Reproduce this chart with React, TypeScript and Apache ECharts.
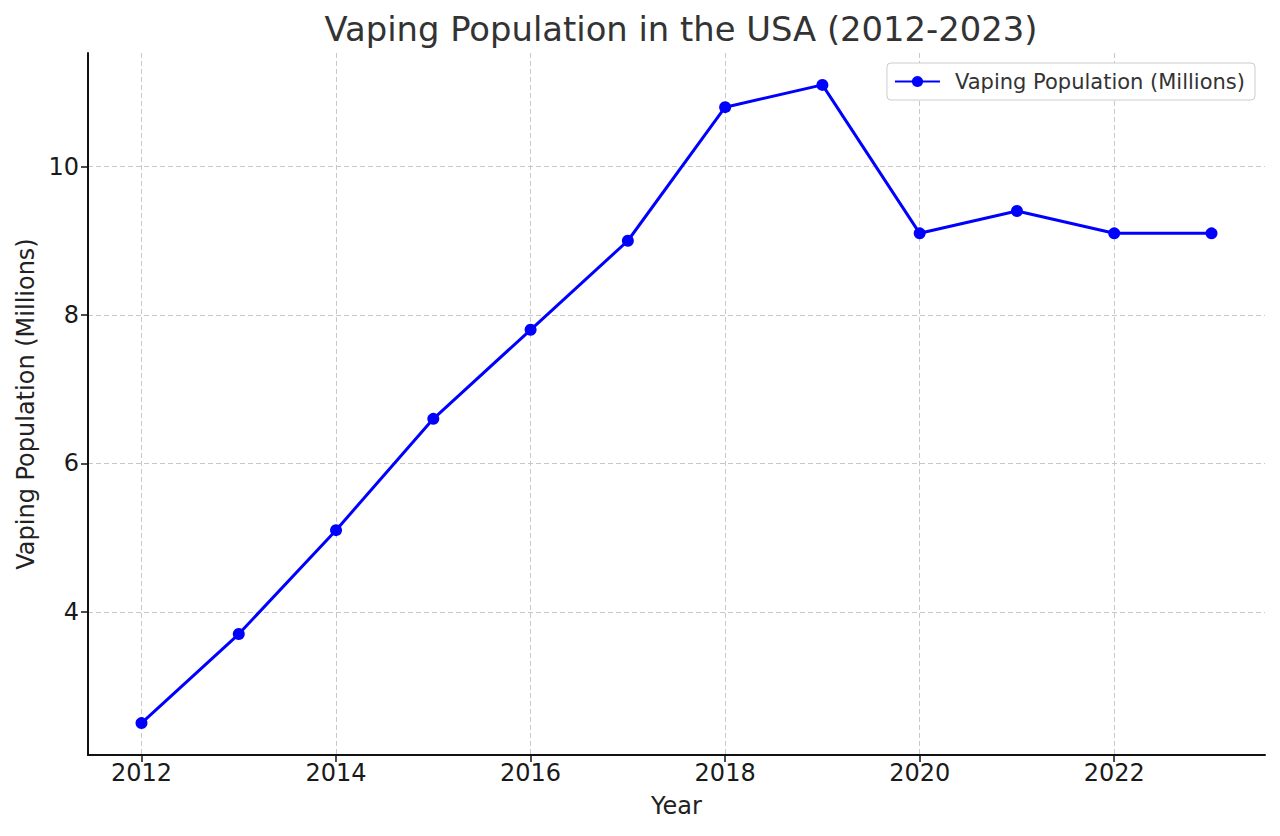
import React, { useEffect, useRef } from "react";
import * as echarts from "echarts";

const years = [2012, 2013, 2014, 2015, 2016, 2017, 2018, 2019, 2020, 2021, 2022, 2023];
const population = [2.5, 3.7, 5.1, 6.6, 7.8, 9.0, 10.8, 11.1, 9.1, 9.4, 9.1, 9.1];
const xTicks = [2012, 2014, 2016, 2018, 2020, 2022];
const yTicks = [4, 6, 8, 10];
const seriesName = "Vaping Population (Millions)";
const titleText = "Vaping Population in the USA (2012-2023)";

export default function App() {
  const ref = useRef<HTMLDivElement>(null);
  useEffect(() => {
    if (!ref.current) return;
    const chart = echarts.init(ref.current, undefined, { renderer: "svg" });
    const font = "DejaVu Sans";
    const gridLine = { show: true, lineStyle: { color: "#c8c8c8", width: 1, type: [5, 3] as any } };
    chart.setOption({
      animation: false,
      textStyle: { fontFamily: font },
      title: {
        text: titleText,
        left: 676,
        top: 7,
        textAlign: "center",
        textStyle: { fontFamily: font, fontSize: 33.8, fontWeight: "normal", color: "#333333" },
      },
      legend: {
        right: 25,
        top: 63,
        orient: "horizontal",
        itemWidth: 45,
        itemHeight: 14,
        padding: [8, 10, 8, 7],
        borderColor: "#cccccc",
        borderWidth: 1,
        borderRadius: 4,
        backgroundColor: "#ffffff",
        textStyle: { fontFamily: font, fontSize: 21, color: "#333333", padding: [0, 0, 0, 10] },
        data: [seriesName],
      },
      grid: { left: 88, right: 15, top: 53, bottom: 81, containLabel: false },
      xAxis: {
        type: "value",
        min: 2011.45,
        max: 2023.55,
        name: "Year",
        nameLocation: "middle",
        nameGap: 39,
        nameTextStyle: { fontFamily: font, fontSize: 24, color: "#222222" },
        axisLine: { show: true, onZero: false, lineStyle: { color: "#111111", width: 2 } },
        axisTick: { show: true, length: 7, lineStyle: { color: "#111111", width: 1.5 }, customValues: xTicks },
        axisLabel: {
          fontFamily: font,
          fontSize: 24,
          color: "#1a1a1a",
          margin: 6,
          customValues: xTicks,
          formatter: (v: number) => String(v),
        },
        splitLine: gridLine,
      },
      yAxis: {
        type: "value",
        min: 2.07,
        max: 11.53,
        name: "Vaping Population (Millions)",
        nameLocation: "middle",
        nameGap: 50,
        nameRotate: 90,
        nameTextStyle: { fontFamily: font, fontSize: 24, color: "#222222" },
        axisLine: { show: true, onZero: false, lineStyle: { color: "#111111", width: 2 } },
        axisTick: { show: true, length: 7, lineStyle: { color: "#111111", width: 1.5 }, customValues: yTicks },
        axisLabel: {
          fontFamily: font,
          fontSize: 24,
          color: "#1a1a1a",
          margin: 9,
          customValues: yTicks,
          formatter: (v: number) => String(v),
        },
        splitLine: gridLine,
      },
      series: [
        {
          name: seriesName,
          type: "line",
          data: years.map((y, i) => [y, population[i]]),
          symbol: "circle",
          symbolSize: 12,
          showSymbol: true,
          lineStyle: { color: "#0000ff", width: 3 },
          itemStyle: { color: "#0000ff" },
          clip: false,
        },
      ],
    });
    return () => chart.dispose();
  }, []);
  return (
    <div
      ref={ref}
      style={{ position: "absolute", left: 0, top: 0, width: 1280, height: 836, background: "#ffffff" }}
    />
  );
}
